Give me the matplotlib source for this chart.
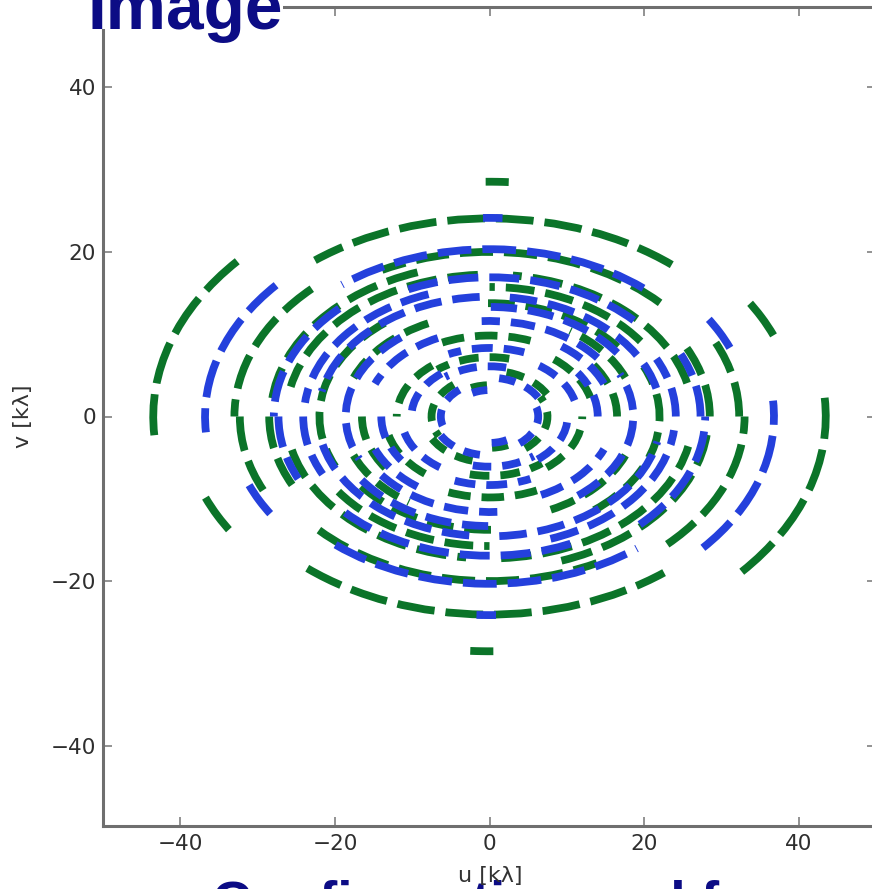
import matplotlib
matplotlib.use("Agg")
import matplotlib.pyplot as plt
from matplotlib.patches import Arc, Rectangle

plt.rcParams['lines.scale_dashes'] = False
plt.rcParams['font.family'] = ['DejaVu Sans']

# ---- data (uv tracks as elliptical arcs, kλ) ----
axis_ratio = 0.655          # v semi-axis / u semi-axis of the tracks

green_semi_u = [43.5, 43.5, 39.7, 36.7, 33.0, 32.3, 30.5, 28.3, 28.5, 26.3, 26.3, 24.0,
                21.0, 19.0, 15.0, 11.0, 8.5, 7.5, 13.5, 19.0, 22.0, 12.0, 16.5, 5.8]
green_theta1 = [150, 85, 15, 38, 146, 0, 32, 118, 0, 9, 95, 25,
                27, 15, 60, 70, 20, 140, 10, 125, 140, 140, 0, 95]
green_theta2 = [183, 91, 23, 140, 180, 17, 128, 176, 18, 80, 172, 90,
                95, 45, 125, 140, 75, 200, 45, 165, 197, 180, 25, 135]

blue_semi_u = [36.8, 36.8, 33.6, 31.0, 27.9, 27.3, 25.8, 24.0, 24.1, 22.2, 22.2, 20.3,
               17.7, 16.0, 12.7, 9.3, 7.2, 6.3, 11.4, 16.0, 18.6, 10.1, 14.0, 4.9]
blue_theta1 = [150, 86, 15, 38, 146, 0, 32, 118, 0, 9, 95, 25,
               27, 15, 60, 70, 20, 140, 10, 125, 140, 140, 0, 95]
blue_theta2 = [183, 92, 23, 140, 180, 17, 128, 176, 18, 80, 172, 90,
               95, 45, 125, 140, 75, 200, 45, 165, 197, 180, 25, 135]

tick_values = [-40, -20, 0, 20, 40]
tick_labels = ['\u221240', '\u221220', '0', '20', '40']

GREEN = '#0b7429'
BLUE = '#2440dc'
NAVY = '#0c0c85'

W, H = 872, 889
fig = plt.figure(figsize=(W / 100, H / 100), dpi=100)
ax = fig.add_axes([103 / W, (H - 826) / H, 773 / W, 819 / H])
ax.set_xlim(-50, 50)
ax.set_ylim(-49.7, 49.7)

LW = 5.6


def add_track(a, t1, t2, color):
    on_pt = (12 + 0.7 * a) * 0.72
    off_pt = 11 * 0.72
    for shift in (0, 180):
        arc = Arc((0, 0), 2 * a, 2 * a * axis_ratio, theta1=t1 + shift, theta2=t2 + shift,
                  edgecolor=color, lw=LW, linestyle=(0, (on_pt, off_pt)), zorder=2)
        ax.add_patch(arc)


for a, t1, t2 in zip(green_semi_u, green_theta1, green_theta2):
    add_track(a, t1, t2, GREEN)
for a, t1, t2 in zip(blue_semi_u, blue_theta1, blue_theta2):
    add_track(a, t1, t2, BLUE)

ax.set_xticks(tick_values)
ax.set_xticklabels(tick_labels)
ax.set_yticks(tick_values)
ax.set_yticklabels(tick_labels)
ax.tick_params(direction='in', length=6.5, width=1.3, color='#8a8a8a',
               top=True, right=True, labelsize=15.5, labelcolor='#2e2e2e', pad=5)
ax.tick_params(axis='x', pad=6)
for sp in ax.spines.values():
    sp.set_color('#6f6f6f')
    sp.set_linewidth(2.2)

# cover for the heading area, then heading text
fig.patches.append(Rectangle((87 / W, 1 - 29 / H), 196 / W, 29 / H, transform=fig.transFigure,
                             facecolor='white', edgecolor='none', zorder=3))
fig.text(87 / W, 1 - 29 / H, 'Image', fontsize=48.7, fontweight='bold',
         family=['Liberation Sans', 'DejaVu Sans'], color=NAVY, ha='left', va='baseline', zorder=4)
fig.text(212 / W, 1 - 920 / H, 'Configuration and frequency', fontsize=39.6, fontweight='bold',
         family=['Liberation Sans', 'DejaVu Sans'], color=NAVY, ha='left', va='baseline', zorder=4)

fig.text(490 / W, 1 - 876 / H, 'u [k\u03bb]', fontsize=16, color='#333333',
         ha='center', va='center', zorder=5)
fig.text(23 / W, 1 - 416 / H, 'v [k\u03bb]', fontsize=16, color='#333333', rotation=90,
         ha='center', va='center', zorder=5)

fig.savefig('out.png', dpi=100)
